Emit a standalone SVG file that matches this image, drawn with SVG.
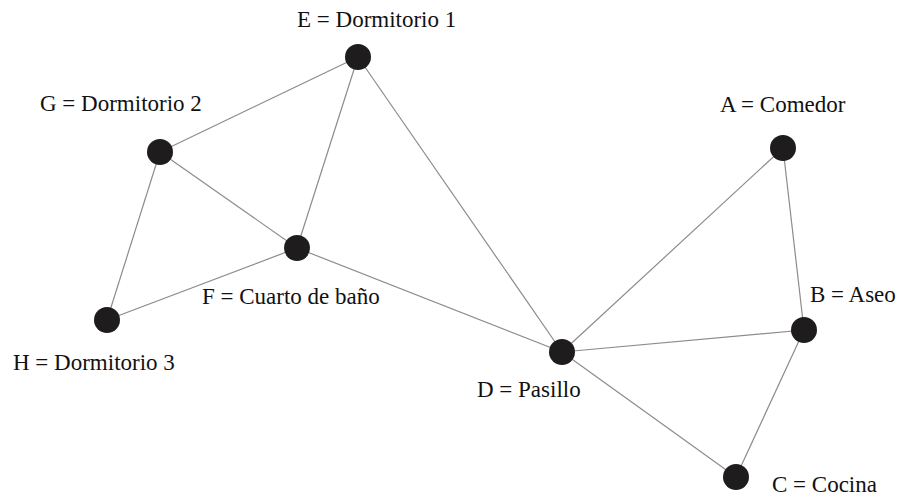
<svg xmlns="http://www.w3.org/2000/svg" width="905" height="496" viewBox="0 0 905 496">
  <style>
    .edge { stroke: #8c8c8c; stroke-width: 1.2; fill: none; }
    .node circle { fill: #1e1c1d; }
    .node text { font-family: "Liberation Serif", "Times New Roman", serif; font-size: 23px; fill: #111; }
  </style>
  <rect width="905" height="496" fill="#ffffff"/>
  <g id="edges">
    <line class="edge" x1="358" y1="57" x2="160" y2="152"/>
    <line class="edge" x1="358" y1="57" x2="297" y2="248"/>
    <line class="edge" x1="358" y1="57" x2="562" y2="352"/>
    <line class="edge" x1="160" y1="152" x2="297" y2="248"/>
    <line class="edge" x1="160" y1="152" x2="107" y2="320"/>
    <line class="edge" x1="107" y1="320" x2="297" y2="248"/>
    <line class="edge" x1="297" y1="248" x2="562" y2="352"/>
    <line class="edge" x1="562" y1="352" x2="783" y2="148"/>
    <line class="edge" x1="783" y1="148" x2="804" y2="330"/>
    <line class="edge" x1="562" y1="352" x2="804" y2="330"/>
    <line class="edge" x1="562" y1="352" x2="736" y2="477"/>
    <line class="edge" x1="804" y1="330" x2="736" y2="477"/>
  </g>
  <g id="node-E" class="node">
    <circle cx="358" cy="57" r="13"/>
    <text x="297" y="27">E = Dormitorio 1</text>
  </g>
  <g id="node-G" class="node">
    <circle cx="160" cy="152" r="13"/>
    <text x="40" y="111">G = Dormitorio 2</text>
  </g>
  <g id="node-F" class="node">
    <circle cx="297" cy="248" r="13"/>
    <text x="202" y="304">F = Cuarto de baño</text>
  </g>
  <g id="node-H" class="node">
    <circle cx="107" cy="320" r="13"/>
    <text x="13" y="370">H = Dormitorio 3</text>
  </g>
  <g id="node-D" class="node">
    <circle cx="562" cy="352" r="13"/>
    <text x="477" y="397">D = Pasillo</text>
  </g>
  <g id="node-A" class="node">
    <circle cx="783" cy="148" r="13"/>
    <text x="720" y="112">A = Comedor</text>
  </g>
  <g id="node-B" class="node">
    <circle cx="804" cy="330" r="13"/>
    <text x="810" y="302">B = Aseo</text>
  </g>
  <g id="node-C" class="node">
    <circle cx="736" cy="477" r="13"/>
    <text x="772" y="492">C = Cocina</text>
  </g>
</svg>
